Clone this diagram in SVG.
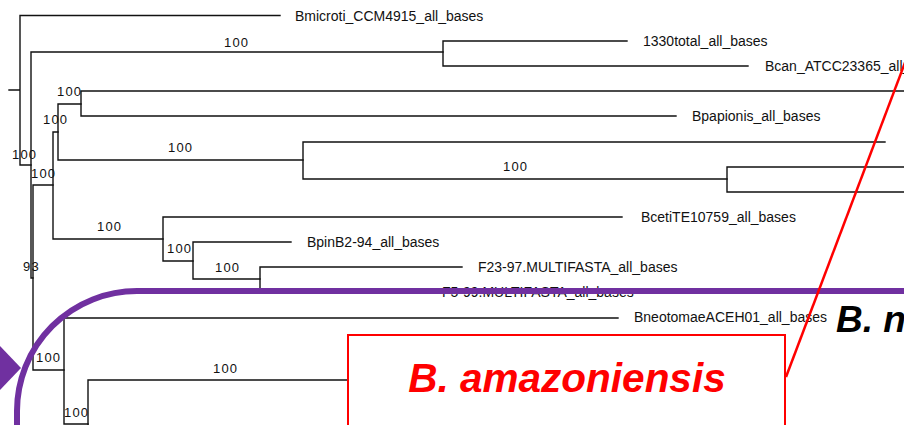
<svg xmlns="http://www.w3.org/2000/svg" width="904" height="425" viewBox="0 0 904 425">
<style>
.br{fill:none;stroke:#111;stroke-width:1.4;stroke-linecap:square}
.lb{font-family:"Liberation Sans",Arial,sans-serif;font-size:14px;fill:#111}
.bs{font-family:"Liberation Sans",Arial,sans-serif;font-size:13px;letter-spacing:1.2px;fill:#111}
.big{font-family:"Liberation Sans",Arial,sans-serif;font-weight:bold;font-style:italic}
</style>
<rect width="904" height="425" fill="#fff"/>
<g id="connectors">
<path class="br" d="M9 90H20M20 15.5V165M20 15.5H280M20 165H31"/>
<path class="br" d="M31 52V278M31 52H443M31 278H33"/>
<path class="br" d="M443 41V66M443 41H627M443 66H748"/>
<path class="br" d="M33 185V370M33 185H53M33 370H64"/>
<path class="br" d="M53 132V239M53 132H58M53 239H163"/>
<path class="br" d="M58 104V160M58 104H81M58 160H303"/>
<path class="br" d="M81 91V116M81 91H906M81 116H676"/>
<path class="br" d="M303 142V179M303 142H885M303 179H727"/>
<path class="br" d="M727 167V192M727 167H906M727 192H906"/>
<path class="br" d="M163 217V261M163 217H622M163 261H193"/>
<path class="br" d="M193 242V279M193 242H291M193 279H260"/>
<path class="br" d="M260 267V292M260 267H462M260 292H426"/>
<path class="br" d="M64 318V424M64 318H618M64 424H88"/>
<path class="br" d="M88 380V430M88 380H400"/>
</g>
<g id="support">
<text class="bs" x="224" y="46.5">100</text>
<text class="bs" x="57" y="96">100</text>
<text class="bs" x="43" y="124">100</text>
<text class="bs" x="168" y="152">100</text>
<text class="bs" x="12" y="159">100</text>
<text class="bs" x="31" y="178">100</text>
<text class="bs" x="503" y="171">100</text>
<text class="bs" x="97" y="231">100</text>
<text class="bs" x="167" y="253">100</text>
<text class="bs" x="215" y="272">100</text>
<text class="bs" x="23" y="271">93</text>
<text class="bs" x="36" y="362">100</text>
<text class="bs" x="213" y="373">100</text>
<text class="bs" x="64" y="417">100</text>
</g>
<g id="leaf-bmicroti"><text class="lb" x="295" y="20.5">Bmicroti_CCM4915_all_bases</text></g>
<g id="leaf-1330"><text class="lb" x="643" y="46">1330total_all_bases</text></g>
<g id="leaf-bcan"><text class="lb" x="765" y="71">Bcan_ATCC23365_all_bases</text></g>
<g id="leaf-bpapionis"><text class="lb" x="692" y="121">Bpapionis_all_bases</text></g>
<g id="leaf-bceti"><text class="lb" x="641" y="221.5">BcetiTE10759_all_bases</text></g>
<g id="leaf-bpin"><text class="lb" x="307" y="246.5">BpinB2-94_all_bases</text></g>
<g id="leaf-f23"><text class="lb" x="478" y="271.5">F23-97.MULTIFASTA_all_bases</text></g>
<g id="leaf-f5"><text class="lb" x="442" y="297">F5-99.MULTIFASTA_all_bases</text></g>
<g id="leaf-bneotomae"><text class="lb" x="634" y="322">BneotomaeACEH01_all_bases</text></g>
<g id="highlight">
<polygon points="0,346 21,368 0,390" fill="#7030A0"/>
<path d="M17 440V411A120 120 0 0 1 137 291H910" fill="none" stroke="#7030A0" stroke-width="6"/>
</g>
<g id="amazoniensis-box">
<rect x="348" y="335" width="437" height="120" fill="#fff" stroke="#f00" stroke-width="2"/>
<text class="big" x="567" y="392" font-size="40.5" fill="#f00" text-anchor="middle">B. amazoniensis</text>
<line x1="786" y1="377" x2="906" y2="60" stroke="#f00" stroke-width="2.5"/>
</g>
<g id="neotomae-title"><text class="big" x="836" y="332" font-size="37" fill="#000">B. n</text></g>
</svg>
